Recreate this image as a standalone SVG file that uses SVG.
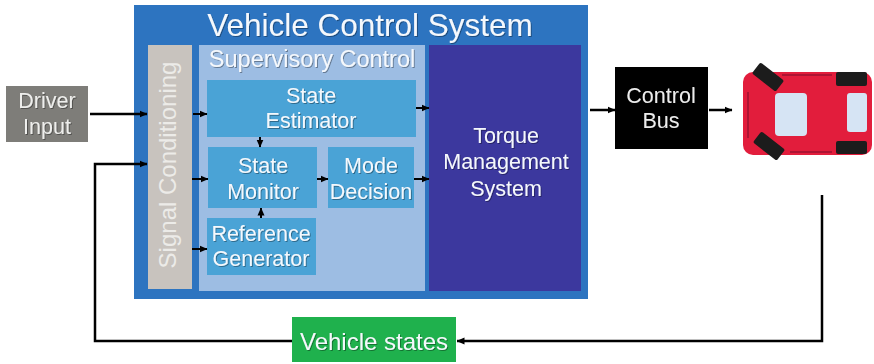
<svg xmlns="http://www.w3.org/2000/svg" width="874" height="364" viewBox="0 0 874 364">
  <defs>
    <marker id="arrow" viewBox="0 0 8 8" refX="7.5" refY="4" markerWidth="8" markerHeight="8" markerUnits="userSpaceOnUse" orient="auto">
      <path d="M0,0.5 L8,4 L0,7.5 Z" fill="#000"/>
    </marker>
    <filter id="soft" x="-10%" y="-20%" width="120%" height="140%">
      <feDropShadow dx="1" dy="1" stdDeviation="0.7" flood-color="#000" flood-opacity="0.35"/>
    </filter>
  </defs>
  <style>
    text { font-family: "Liberation Sans", Arial, sans-serif; text-anchor: middle; }
    .lbl { fill: #f5f8fc; font-size: 21.5px; filter: url(#soft); }
    .wire { fill: none; stroke: #000; stroke-width: 2.5; }
    .thin { fill: none; stroke: #000; stroke-width: 2; }
    .box { fill: #4aa3d6; }
    .tyre { fill: #1c1c1c; }
  </style>

  <rect width="874" height="364" fill="#fff"/>

  <!-- Vehicle control system container -->
  <g id="vehicle-control-system">
    <rect x="134" y="5" width="454" height="294" fill="#2d74c0"/>
    <text x="370" y="36" class="lbl" style="font-size:31.5px">Vehicle Control System</text>
  </g>

  <g id="signal-conditioning">
    <rect x="148" y="45" width="44" height="244" fill="#c8c3be"/>
    <text transform="translate(176,165) rotate(-90)" style="font-size:24px;fill:#ecebe8">Signal Conditioning</text>
  </g>

  <g id="supervisory-control">
    <rect x="199" y="45" width="226" height="246" fill="#9dbde3"/>
    <text x="312" y="67" class="lbl" style="font-size:23.5px">Supervisory Control</text>
  </g>

  <g id="state-estimator">
    <rect class="box" x="207" y="80" width="209" height="57"/>
    <text x="311" y="103" class="lbl">State</text>
    <text x="311" y="128" class="lbl">Estimator</text>
  </g>

  <g id="state-monitor">
    <rect class="box" x="208" y="147" width="109" height="61"/>
    <text x="263" y="173" class="lbl">State</text>
    <text x="263" y="199" class="lbl">Monitor</text>
  </g>

  <g id="mode-decision">
    <rect class="box" x="328" y="147" width="86" height="61"/>
    <text x="371" y="173" class="lbl">Mode</text>
    <text x="371" y="199" class="lbl">Decision</text>
  </g>

  <g id="reference-generator">
    <rect class="box" x="207" y="218" width="109" height="57"/>
    <text x="261" y="241" class="lbl">Reference</text>
    <text x="261" y="266" class="lbl">Generator</text>
  </g>

  <g id="torque-management">
    <rect x="429" y="45" width="152" height="246" fill="#3c389e"/>
    <text x="506" y="143" class="lbl">Torque</text>
    <text x="506" y="169" class="lbl">Management</text>
    <text x="506" y="196" class="lbl">System</text>
  </g>

  <g id="driver-input">
    <rect x="6" y="86" width="82" height="56" fill="#7e7d79"/>
    <text x="47" y="108" class="lbl" style="fill:#eeeeec">Driver</text>
    <text x="47" y="134" class="lbl" style="fill:#eeeeec">Input</text>
  </g>

  <g id="control-bus">
    <rect x="615" y="67" width="93" height="82" fill="#000"/>
    <text x="661" y="103" class="lbl" style="fill:#ececec">Control</text>
    <text x="661" y="128" class="lbl" style="fill:#ececec">Bus</text>
  </g>

  <g id="vehicle-states">
    <rect x="292" y="317" width="164" height="45" fill="#1fb14d"/>
    <text x="374" y="350" class="lbl" style="font-size:24px">Vehicle states</text>
  </g>

  <!-- top view of the car -->
  <g id="car">
    <rect x="743" y="72" width="129" height="83" rx="10" fill="#e21d3c"/>
    <path d="M782,75 H832 M748,92 V138 M790,152 H832" stroke="#9c1230" stroke-width="1.5" fill="none"/>
    <rect x="775" y="93" width="32" height="43" rx="4" fill="#d6e4f4"/>
    <rect x="847" y="93" width="20" height="39" rx="3" fill="#d6e4f4"/>
    <rect class="tyre" x="836" y="72" width="31" height="14" rx="2"/>
    <rect class="tyre" x="836" y="141" width="31" height="13" rx="2"/>
    <rect class="tyre" x="-15" y="-7" width="30" height="14" rx="2" transform="translate(768,77) rotate(38)"/>
    <rect class="tyre" x="-15" y="-7" width="30" height="14" rx="2" transform="translate(769,146) rotate(38)"/>
  </g>

  <!-- connectors -->
  <g id="connectors">
    <path class="wire" d="M90,114 H147" marker-end="url(#arrow)"/>
    <path class="wire" d="M822,195 V341 H457" marker-end="url(#arrow)"/>
    <path class="wire" d="M292,341 H95 V164 H147" marker-end="url(#arrow)"/>
    <path class="thin" d="M193,114 H207" marker-end="url(#arrow)"/>
    <path class="thin" d="M192,179 H208" marker-end="url(#arrow)"/>
    <path class="thin" d="M192,249 H207" marker-end="url(#arrow)"/>
    <path class="thin" d="M260,137 V147" marker-end="url(#arrow)"/>
    <path class="thin" d="M261,218 V208" marker-end="url(#arrow)"/>
    <path class="thin" d="M317,179 H328" marker-end="url(#arrow)"/>
    <path class="thin" d="M414,179 H429" marker-end="url(#arrow)"/>
    <path class="thin" d="M416,108 H429" marker-end="url(#arrow)"/>
    <path class="wire" d="M590,110 H615" marker-end="url(#arrow)"/>
    <path class="wire" d="M709,110 H732" marker-end="url(#arrow)"/>
  </g>
</svg>
